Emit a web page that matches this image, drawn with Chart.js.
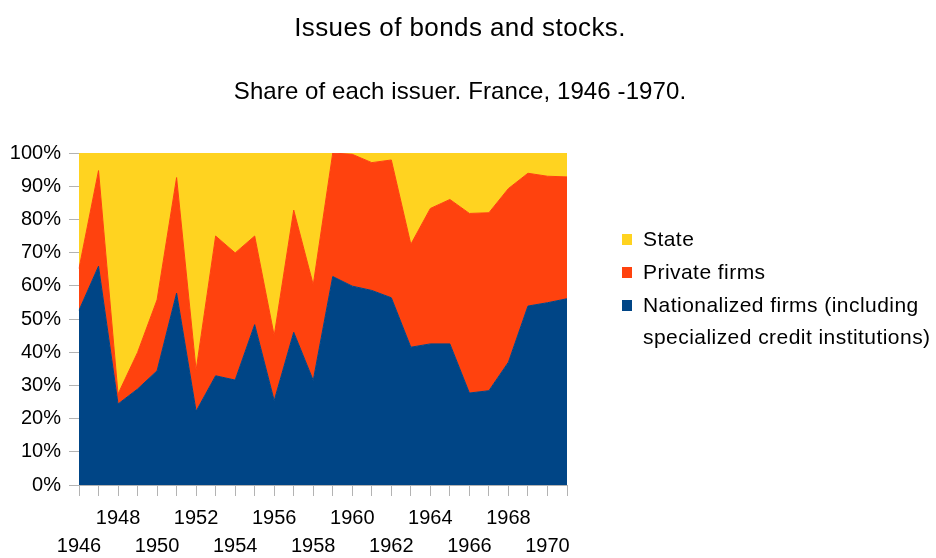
<!DOCTYPE html>
<html>
<head>
<meta charset="utf-8">
<title>Issues of bonds and stocks</title>
<script src="https://cdn.jsdelivr.net/npm/chart.js@4.4.1/dist/chart.umd.min.js"></script>
<style>
  html, body { margin: 0; padding: 0; background: #fff; }
  .chart-container { position: relative; width: 936px; height: 558px; }
</style>
</head>
<body>
<div class="chart-container"><canvas id="myChart"></canvas></div>
<script>
// share of each issuer, in % of total issues
const years = [1946, 1947, 1948, 1949, 1950, 1951, 1952, 1953, 1954, 1955, 1956, 1957, 1958,
               1959, 1960, 1961, 1962, 1963, 1964, 1965, 1966, 1967, 1968, 1969, 1970, 1971];
const nationalized = [52.6, 65.9, 24.4, 28.9, 34.4, 57.8, 22.2, 32.9, 31.6, 48.3, 25.4, 46.0, 31.5,
                      62.8, 59.9, 58.6, 56.4, 41.5, 42.5, 42.5, 27.7, 28.4, 37.0, 53.9, 54.9, 56.1];
const privateFirms = [12.6, 28.8, 3.0, 11.0, 21.4, 34.8, 12.4, 42.1, 38.3, 26.7, 19.6, 36.8, 28.8,
                      37.2, 39.7, 38.5, 41.5, 31.0, 40.8, 43.5, 54.1, 53.6, 52.3, 40.0, 38.1, 36.7];
const state = [34.8, 5.3, 72.6, 60.1, 44.2, 7.4, 65.4, 25.0, 30.1, 25.0, 55.0, 17.2, 39.7,
               0.0, 0.4, 2.9, 2.1, 27.5, 16.7, 14.0, 18.2, 18.0, 10.7, 6.1, 7.0, 7.2];

const yTicks = [0, 10, 20, 30, 40, 50, 60, 70, 80, 90, 100];
const titleText = 'Issues of bonds and stocks.';
const subtitleText = 'Share of each issuer. France, 1946 -1970.';

const colors = {
  nationalized: '#004586',
  private: '#ff420e',
  state: '#ffd320',
};

// legend entries, top to bottom (last one wraps on two lines)
const legendItems = [
  { lines: ['State'], color: colors.state, y: 240 },
  { lines: ['Private firms'], color: colors.private, y: 273 },
  { lines: ['Nationalized firms (including', 'specialized credit institutions)'], color: colors.nationalized, y: 306 },
];

const FONT = '"Liberation Sans", Arial, sans-serif';
const AXIS_GREY = '#b3b3b3';

const textPlugin = {
  id: 'titlesAndLegend',
  afterDraw(chart) {
    const ctx = chart.ctx;
    ctx.save();
    ctx.fillStyle = '#000';
    ctx.textAlign = 'center';
    ctx.textBaseline = 'alphabetic';
    ctx.font = '26px ' + FONT;
    ctx.letterSpacing = '0.4px';
    ctx.fillText(titleText, 460, 36);
    ctx.font = '24px ' + FONT;
    ctx.letterSpacing = '0.1px';
    ctx.fillText(subtitleText, 460, 99);

    // legend
    ctx.textAlign = 'left';
    ctx.textBaseline = 'middle';
    ctx.font = '21px ' + FONT;
    ctx.letterSpacing = '0.45px';
    legendItems.forEach(item => {
      ctx.fillStyle = item.color;
      ctx.fillRect(622, item.y - 6, 10, 11);
      ctx.fillStyle = '#000';
      item.lines.forEach((line, i) => {
        ctx.fillText(line, 643, item.y + i * 32);
      });
    });
    ctx.restore();
  }
};

const areaSet = (label, data, color, fill) => ({
  label: label,
  data: data,
  backgroundColor: color,
  borderColor: color,
  borderWidth: 1,
  pointRadius: 0,
  pointHoverRadius: 0,
  tension: 0,
  fill: fill,
});

const ctx = document.getElementById('myChart').getContext('2d');
const myChart = new Chart(ctx, {
  type: 'line',
  data: {
    labels: years,
    datasets: [
      areaSet('Nationalized firms (including specialized credit institutions)', nationalized, colors.nationalized, 'origin'),
      areaSet('Private firms', privateFirms, colors.private, '-1'),
      areaSet('State', state, colors.state, '-1'),
    ],
  },
  options: {
    responsive: true,
    maintainAspectRatio: false,
    animation: false,
    layout: { padding: { left: 0, top: 153, right: 369, bottom: 0 } },
    plugins: {
      legend: { display: false },
      title: { display: false },
      tooltip: { enabled: false },
    },
    scales: {
      x: {
        type: 'category',
        offset: false,
        stacked: true,
        border: { color: AXIS_GREY, width: 1 },
        grid: { drawOnChartArea: false, drawTicks: true, tickLength: 11, color: AXIS_GREY },
        ticks: {
          autoSkip: false,
          maxRotation: 0,
          minRotation: 0,
          padding: 9,
          color: '#000',
          font: { family: FONT, size: 20, lineHeight: 1.38 },
          callback: (value, index) => {
            const year = years[index];
            if (year % 2 !== 0) return '';
            // staggered labels on two rows
            return (year - 1946) % 4 === 0 ? ['', String(year)] : [String(year), ''];
          },
        },
        afterFit: scale => { scale.height = 73; },
      },
      y: {
        stacked: true,
        min: 0,
        max: 100,
        border: { color: AXIS_GREY, width: 1 },
        grid: { drawOnChartArea: false, drawTicks: true, tickLength: 10, color: AXIS_GREY },
        afterBuildTicks: scale => { scale.ticks = yTicks.map(v => ({ value: v })); },
        ticks: {
          padding: 8,
          color: '#000',
          font: { family: FONT, size: 20 },
          callback: value => value + '%',
        },
        afterFit: scale => { scale.width = 79; },
      },
    },
  },
  plugins: [textPlugin],
});
</script>
</body>
</html>
